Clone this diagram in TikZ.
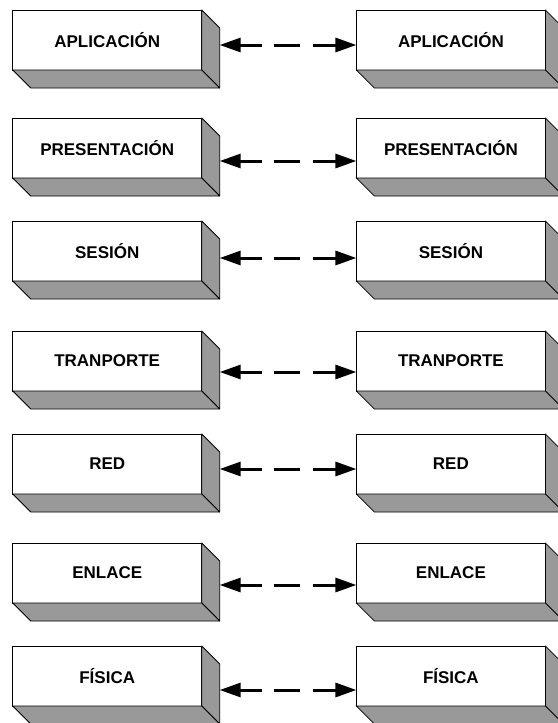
\documentclass[tikz,border=0pt]{standalone}
\usepackage{fontspec}
\setmainfont{Liberation Sans}
\usetikzlibrary{arrows.meta,calc}
\definecolor{facegray}{RGB}{153,153,153}
\tikzset{
  layer/.style={draw, fill=white, line width=0.8pt, minimum width=189pt, minimum height=60pt,
    inner sep=0pt, outer sep=0pt, font=\fontsize{17}{17}\selectfont\bfseries},
  face/.style={fill=facegray, draw, line width=0.8pt, line join=round},
  conn/.style={line width=3pt, dash pattern=on 21.7pt off 12.3pt on 26pt off 12.7pt on 40pt,
    {Triangle[length=21pt,width=14pt]}-{Triangle[length=21pt,width=14pt]}}
}
\begin{document}
\begin{tikzpicture}[x=1pt,y=-1pt]
\useasboundingbox (0,0) rectangle (557,723);
\foreach \i/\t/\top/\ay in {1/APLICACIÓN/10/45, 2/PRESENTACIÓN/118/161, 3/SESIÓN/221/258,
  4/TRANPORTE/331/372, 5/RED/434/469, 6/ENLACE/543/585, 7/FÍSICA/646/690} {
  \node[layer] (L\i) at (107.2,\top+30) {\t};
  \node[layer] (R\i) at (450.9,\top+30) {\t};
  \foreach \n in {L\i,R\i} {
    \filldraw[face] (\n.north east) -- ++(18,18) -- ($(\n.south east)+(18,18)$) -- (\n.south east) -- cycle;
    \filldraw[face] (\n.south west) -- (\n.south east) -- ++(18,18) -- ($(\n.south west)+(18,18)$) -- cycle;
  }
  \coordinate (S\i) at ($(L\i.north east)+(18,\ay-\top)$);
  \draw[conn] (S\i) -- (S\i -| R\i.west);
}
\end{tikzpicture}
\end{document}
